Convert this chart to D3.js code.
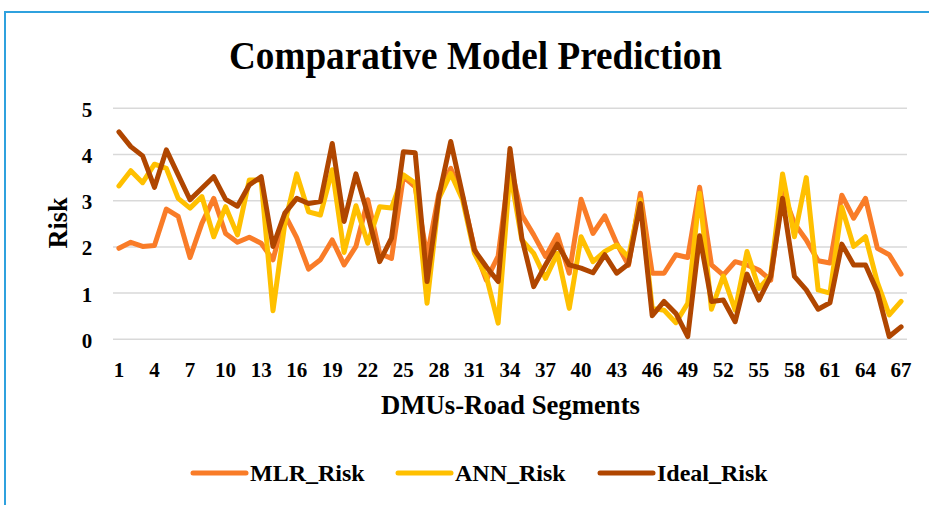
<!DOCTYPE html>
<html>
<head>
<meta charset="utf-8">
<script src="https://cdn.jsdelivr.net/npm/d3@7"></script>
<style>
  body { margin: 0; background: #fff; }
  svg text { font-family: "Liberation Serif", "Times New Roman", serif; font-weight: bold; fill: #000; }
  .grid line { stroke: #d9d9d9; stroke-width: 1.5; }
  .series { fill: none; stroke-width: 5; stroke-linejoin: round; stroke-linecap: round; }
</style>
</head>
<body>
<div id="vis"></div>
<script>
// values, one per road segment (DMU 1..67)
var segments = d3.range(1, 68);

var mlrRisk = [1.97, 2.10, 2.01, 2.03, 2.82, 2.66, 1.77, 2.51, 3.05, 2.29,
  2.10, 2.21, 2.08, 1.72, 2.70, 2.20, 1.52, 1.72, 2.15, 1.61,
  2.01, 3.02, 1.86, 1.75, 3.52, 3.30, 1.79, 3.16, 3.70, 3.09,
  1.97, 1.28, 1.80, 3.80, 2.69, 2.26, 1.79, 2.26, 1.43, 3.03,
  2.29, 2.67, 2.08, 1.60, 3.16, 1.43, 1.43, 1.83, 1.77, 3.29,
  1.61, 1.39, 1.68, 1.61, 1.50, 1.28, 3.20, 2.51, 2.15, 1.70,
  1.65, 3.12, 2.62, 3.05, 1.97, 1.83, 1.41];

var annRisk = [3.32, 3.65, 3.39, 3.79, 3.70, 3.05, 2.84, 3.09, 2.22, 2.87,
  2.26, 3.45, 3.45, 0.62, 2.51, 3.58, 2.76, 2.69, 3.67, 1.88,
  2.89, 2.08, 2.87, 2.84, 3.56, 3.38, 0.78, 3.05, 3.59, 3.02,
  1.86, 1.36, 0.35, 3.63, 2.15, 1.86, 1.32, 1.86, 0.67, 2.22,
  1.68, 1.90, 2.04, 1.78, 3.02, 0.67, 0.63, 0.36, 0.78, 3.16,
  0.65, 1.37, 0.63, 1.90, 1.10, 1.39, 3.58, 2.22, 3.50, 1.07,
  1.00, 2.86, 2.01, 2.22, 1.23, 0.53, 0.82];

var idealRisk = [4.49, 4.17, 3.97, 3.29, 4.10, 3.56, 3.02, 3.27, 3.52, 3.03,
  2.88, 3.34, 3.52, 2.01, 2.73, 3.05, 2.94, 2.98, 4.24, 2.55,
  3.58, 2.70, 1.68, 2.19, 4.06, 4.04, 1.25, 3.09, 4.28, 3.12,
  1.93, 1.57, 1.25, 4.13, 2.19, 1.14, 1.61, 2.06, 1.61, 1.54,
  1.44, 1.83, 1.43, 1.63, 2.94, 0.51, 0.82, 0.56, 0.06, 2.24,
  0.82, 0.85, 0.38, 1.41, 0.85, 1.36, 3.05, 1.36, 1.07, 0.65,
  0.79, 2.06, 1.61, 1.61, 1.03, 0.06, 0.27];

var seriesNames = ["MLR_Risk", "ANN_Risk", "Ideal_Risk"];
var seriesValues = [mlrRisk, annRisk, idealRisk];
var yTicks = [0, 1, 2, 3, 4, 5];
var xTickLabels = segments.filter(function(d) { return (d - 1) % 3 == 0; });

var chartTitle = "Comparative Model Prediction";
var xTitle = "DMUs-Road Segments";
var yTitle = "Risk";

function RiskChart() {
  var chart = this;
  chart.fullWidth = 929;
  chart.fullHeight = 505;
  chart.plot = {left: 113, right: 907, top: 108.3, bottom: 339.3};

  chart.xAxis = d3.scaleBand().domain(segments).range([chart.plot.left, chart.plot.right]);
  chart.yAxis = d3.scaleLinear().domain([0, 5]).range([chart.plot.bottom, chart.plot.top]);
  chart.color = d3.scaleOrdinal().domain(seriesNames).range(["#f97c28", "#ffc000", "#b04600"]);

  chart.line = d3.line()
    .x(function(d, i) { return chart.xAxis(segments[i]) + chart.xAxis.bandwidth() / 2; })
    .y(function(d) { return chart.yAxis(d); });

  var svg = d3.select("#vis").append("svg")
    .attr("width", chart.fullWidth)
    .attr("height", chart.fullHeight);

  // chart frame (only top and left edges show in the picture)
  svg.append("rect")
    .attr("x", 5).attr("y", 12)
    .attr("width", 960).attr("height", 520)
    .attr("fill", "#fff")
    .attr("stroke", "#2fa1de")
    .attr("stroke-width", 2);

  svg.append("text")
    .attr("x", 475.5).attr("y", 69)
    .attr("text-anchor", "middle")
    .attr("font-size", 39)
    .attr("textLength", 493)
    .attr("lengthAdjust", "spacingAndGlyphs")
    .text(chartTitle);

  // gridlines
  svg.append("g").attr("class", "grid")
    .selectAll("line").data(yTicks).enter().append("line")
    .attr("x1", chart.plot.left).attr("x2", chart.plot.right)
    .attr("y1", chart.yAxis).attr("y2", chart.yAxis);

  // y tick labels
  svg.append("g").selectAll("text").data(yTicks).enter().append("text")
    .attr("x", 87)
    .attr("y", function(d) { return chart.yAxis(d) + 8.5; })
    .attr("text-anchor", "middle")
    .attr("font-size", 21)
    .text(function(d) { return d; });

  // x tick labels
  svg.append("g").selectAll("text").data(xTickLabels).enter().append("text")
    .attr("x", function(d) { return chart.xAxis(d) + chart.xAxis.bandwidth() / 2; })
    .attr("y", 377)
    .attr("text-anchor", "middle")
    .attr("font-size", 21)
    .text(function(d) { return d; });

  svg.append("text")
    .attr("x", 510.5).attr("y", 414)
    .attr("text-anchor", "middle")
    .attr("font-size", 28)
    .attr("textLength", 259)
    .attr("lengthAdjust", "spacingAndGlyphs")
    .text(xTitle);

  svg.append("text")
    .attr("transform", "translate(67,223) rotate(-90)")
    .attr("text-anchor", "middle")
    .attr("font-size", 28)
    .attr("textLength", 51)
    .attr("lengthAdjust", "spacingAndGlyphs")
    .text(yTitle);

  // the three series, drawn in order so Ideal_Risk sits on top
  svg.append("g").selectAll("path").data(seriesValues).enter().append("path")
    .attr("class", "series")
    .attr("stroke", function(d, i) { return chart.color(seriesNames[i]); })
    .attr("d", chart.line);

  // legend
  var legendX = [193, 398, 600];
  var legend = svg.append("g").selectAll("g").data(seriesNames).enter().append("g")
    .attr("transform", function(d, i) { return "translate(" + legendX[i] + ",473)"; });

  legend.append("line")
    .attr("x1", 0).attr("x2", 53)
    .attr("stroke", function(d) { return chart.color(d); })
    .attr("stroke-width", 5)
    .attr("stroke-linecap", "round");

  legend.append("text")
    .attr("x", 57).attr("y", 8)
    .attr("font-size", 24)
    .text(function(d) { return d; });
}

var riskchart = new RiskChart();
</script>
</body>
</html>
